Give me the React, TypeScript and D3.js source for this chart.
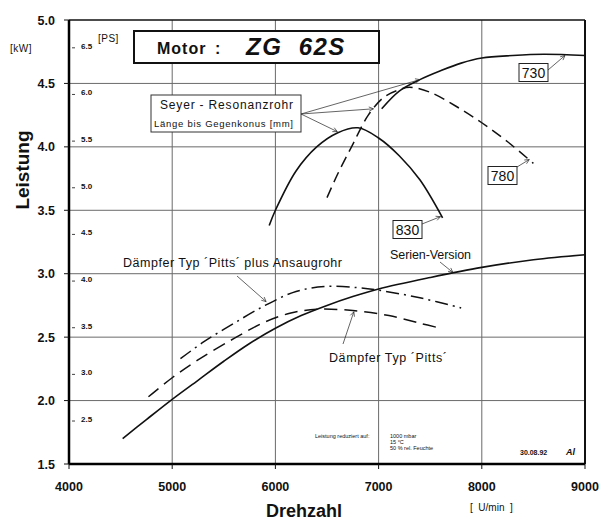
import * as d3 from 'd3';

const rpmTicks = [4000, 5000, 6000, 7000, 8000, 9000];
const kwTicks = [1.5, 2.0, 2.5, 3.0, 3.5, 4.0, 4.5, 5.0];
const psTicks = [2.5, 3.0, 3.5, 4.0, 4.5, 5.0, 5.5, 6.0, 6.5];
const PS_TO_KW = 0.7355;

// Serien-Version
const serienRpm = [4520, 4750, 5000, 5250, 5500, 5750, 6000, 6250, 6500, 6750, 7000, 7500, 8000, 8500, 9000];
const serienKw = [1.7, 1.85, 2.01, 2.16, 2.31, 2.45, 2.57, 2.67, 2.75, 2.82, 2.88, 2.97, 3.05, 3.11, 3.15];

// Dämpfer Typ 'Pitts'
const pittsRpm = [4770, 5000, 5250, 5600, 5900, 6150, 6400, 6750, 7100, 7400, 7600];
const pittsKw = [2.03, 2.18, 2.32, 2.49, 2.62, 2.69, 2.72, 2.71, 2.67, 2.61, 2.57];

// Dämpfer Typ 'Pitts' plus Ansaugrohr
const pittsPlusRpm = [5080, 5300, 5600, 5900, 6200, 6500, 6800, 7000, 7400, 7800];
const pittsPlusKw = [2.33, 2.46, 2.61, 2.75, 2.86, 2.9, 2.89, 2.87, 2.81, 2.73];

// Seyer Resonanzrohr 830 mm
const r830Rpm = [5940, 6000, 6200, 6400, 6600, 6800, 7000, 7200, 7400, 7620];
const r830Kw = [3.38, 3.5, 3.81, 4.0, 4.11, 4.15, 4.07, 3.93, 3.74, 3.44];

// 780 mm
const r780Rpm = [6500, 6600, 6750, 6900, 7050, 7200, 7300, 7500, 7750, 8000, 8250, 8500];
const r780Kw = [3.6, 3.78, 4.02, 4.25, 4.39, 4.45, 4.47, 4.43, 4.32, 4.19, 4.04, 3.87];

// 730 mm
const r730Rpm = [7030, 7200, 7400, 7600, 7800, 8000, 8300, 8600, 9000];
const r730Kw = [4.3, 4.44, 4.53, 4.6, 4.66, 4.7, 4.72, 4.73, 4.72];

const W = 601;
const H = 523;
const FONT = '"Liberation Sans", Arial, sans-serif';

const x = d3.scaleLinear().domain([4000, 9000]).range([69, 585]);
const y = d3.scaleLinear().domain([1.5, 5.0]).range([464, 20]);

const zip = (r: number[], k: number[]) => r.map((v, i) => [v, k[i]] as [number, number]);

const line = d3
  .line<[number, number]>()
  .x((d) => x(d[0]))
  .y((d) => y(d[1]))
  .curve(d3.curveCatmullRom.alpha(0.5));

function Leader({ from, to }: { from: [number, number]; to: [number, number] }) {
  // from in pixels (label side), to in data coords (curve side)
  const tx = x(to[0]);
  const ty = y(to[1]);
  const ang = Math.atan2(ty - from[1], tx - from[0]);
  const a = 5;
  const p1 = [tx - a * Math.cos(ang - 0.45), ty - a * Math.sin(ang - 0.45)];
  const p2 = [tx - a * Math.cos(ang + 0.45), ty - a * Math.sin(ang + 0.45)];
  return (
    <g stroke="#222" strokeWidth={0.7} fill="none">
      <line x1={from[0]} y1={from[1]} x2={tx} y2={ty} />
      <polyline points={`${p1[0]},${p1[1]} ${tx},${ty} ${p2[0]},${p2[1]}`} />
    </g>
  );
}

function LabelBox({ cx, cy, text }: { cx: number; cy: number; text: string }) {
  return (
    <g>
      <rect x={cx - 14.5} y={cy - 9} width={29} height={18} fill="#fff" stroke="#222" strokeWidth={1} />
      <text x={cx} y={cy + 5} textAnchor="middle" fontSize={14} fontFamily={FONT} fill="#111">
        {text}
      </text>
    </g>
  );
}

export default function App() {
  return (
    <svg
      width={W}
      height={H}
      style={{ position: 'absolute', left: 0, top: 0, background: '#fff' }}
      fontFamily={FONT}
    >
      <rect width={W} height={H} fill="#fff" />

      {/* grid */}
      {kwTicks.slice(1, -1).map((t) => (
        <line key={'h' + t} x1={x(4000)} x2={x(9000)} y1={y(t)} y2={y(t)} stroke="#6a6a6a" strokeWidth={1} />
      ))}
      {rpmTicks.slice(1, -1).map((t) => (
        <line key={'v' + t} x1={x(t)} x2={x(t)} y1={y(5)} y2={y(1.5)} stroke="#6a6a6a" strokeWidth={1} />
      ))}

      {/* frame */}
      <line x1={x(4000)} x2={x(9000)} y1={y(5)} y2={y(5)} stroke="#111" strokeWidth={1.5} />
      <line x1={x(9000)} x2={x(9000)} y1={y(5)} y2={y(1.5)} stroke="#111" strokeWidth={2} />
      <line x1={x(4000)} x2={x(4000)} y1={y(5)} y2={y(1.5)} stroke="#000" strokeWidth={2.5} />
      <line x1={x(4000)} x2={x(9000)} y1={y(1.5)} y2={y(1.5)} stroke="#000" strokeWidth={2.5} />

      {/* kW axis */}
      {kwTicks.map((t) => (
        <g key={'k' + t}>
          <line x1={x(4000) - 5} x2={x(4000)} y1={y(t)} y2={y(t)} stroke="#111" strokeWidth={1} />
          <text x={55} y={y(t) + 4.5} textAnchor="end" fontSize={12.5} fontWeight="bold" fill="#111">
            {t.toFixed(1)}
          </text>
        </g>
      ))}
      <text x={10} y={52} fontSize={10} fill="#111" letterSpacing={0.5}>[kW]</text>

      {/* PS scale */}
      {psTicks.map((t) => (
        <g key={'p' + t}>
          <line x1={x(4000) + 3} x2={x(4000) + 6} y1={y(t * PS_TO_KW)} y2={y(t * PS_TO_KW)} stroke="#111" strokeWidth={0.8} />
          <text x={81} y={y(t * PS_TO_KW) + 1} fontSize={8} fontWeight="bold" fill="#111">
            {t.toFixed(1)}
          </text>
        </g>
      ))}
      <text x={98} y={42} fontSize={10} fill="#111" letterSpacing={0.5}>[PS]</text>

      {/* rpm axis */}
      {rpmTicks.map((t) => (
        <g key={'r' + t}>
          <line x1={x(t)} x2={x(t)} y1={y(1.5)} y2={y(1.5) + 5} stroke="#111" strokeWidth={1} />
          <text x={x(t)} y={491} textAnchor="middle" fontSize={12.5} fontWeight="bold" fill="#111">
            {t}
          </text>
        </g>
      ))}
      <text x={266} y={517} fontSize={18} fontWeight="bold" fill="#111">Drehzahl</text>
      <text x={470} y={511} fontSize={10} fill="#111" xmlSpace="preserve">[  U/min  ]</text>
      <text
        transform={`translate(29,170) rotate(-90)`}
        textAnchor="middle"
        fontSize={19}
        fontWeight="bold"
        fill="#111"
      >
        Leistung
      </text>

      {/* curves */}
      <path d={line(zip(serienRpm, serienKw)) ?? ''} fill="none" stroke="#111" strokeWidth={1.6} />
      <path d={line(zip(pittsRpm, pittsKw)) ?? ''} fill="none" stroke="#111" strokeWidth={1.5} strokeDasharray="13 7" />
      <path d={line(zip(pittsPlusRpm, pittsPlusKw)) ?? ''} fill="none" stroke="#111" strokeWidth={1.5} strokeDasharray="13 5 2 5" />
      <path d={line(zip(r830Rpm, r830Kw)) ?? ''} fill="none" stroke="#111" strokeWidth={1.6} />
      <path d={line(zip(r780Rpm, r780Kw)) ?? ''} fill="none" stroke="#111" strokeWidth={1.5} strokeDasharray="11 6" />
      <path d={line(zip(r730Rpm, r730Kw)) ?? ''} fill="none" stroke="#111" strokeWidth={1.6} />

      {/* title */}
      <rect x={134} y={31} width={245} height={32} fill="#fff" stroke="#111" strokeWidth={2} />
      <text x={157} y={54} fontSize={16} fontWeight="bold" fill="#111" letterSpacing={1}>Motor</text>
      <text x={215} y={54} fontSize={16} fontWeight="bold" fill="#111">:</text>
      <text x={246} y={55} fontSize={24} fontWeight="bold" fontStyle="italic" fill="#111" letterSpacing={1.5} xmlSpace="preserve">
        ZG  62S
      </text>

      {/* Seyer annotation */}
      <Leader from={[301, 114]} to={[7400, 4.53]} />
      <Leader from={[301, 114]} to={[6950, 4.3]} />
      <Leader from={[301, 114]} to={[6600, 4.12]} />
      <rect x={151} y={95} width={150} height={37} fill="#fff" stroke="#333" strokeWidth={1} />
      <text x={160} y={109} fontSize={12} fill="#111" textLength={133} lengthAdjust="spacing">Seyer - Resonanzrohr</text>
      <text x={154} y={127} fontSize={9.5} fill="#111" textLength={139} lengthAdjust="spacing">Länge bis Gegenkonus [mm]</text>

      {/* curve labels */}
      <Leader from={[548, 70]} to={[8806, 4.72]} />
      <LabelBox cx={533.5} cy={72.5} text="730" />
      <Leader from={[517, 167]} to={[8460, 3.9]} />
      <LabelBox cx={502.5} cy={175.5} text="780" />
      <Leader from={[422, 224]} to={[7600, 3.45]} />
      <LabelBox cx={407.5} cy={229.5} text="830" />

      <text x={390} y={259} fontSize={12.5} fill="#111" textLength={81} lengthAdjust="spacing">Serien-Version</text>
      <Leader from={[440, 262]} to={[7720, 3.01]} />

      <text x={123} y={267} fontSize={12.5} fill="#111" textLength={219} lengthAdjust="spacing">
        Dämpfer Typ ´Pitts´ plus Ansaugrohr
      </text>
      <Leader from={[237, 276]} to={[5910, 2.78]} />

      <text x={329} y={362} fontSize={12.5} fill="#111" textLength={118} lengthAdjust="spacing">
        Dämpfer Typ ´Pitts´
      </text>
      <Leader from={[343, 344]} to={[6760, 2.7]} />

      {/* notes */}
      <text x={315} y={438} fontSize={5.5} fill="#111">Leistung reduziert auf:</text>
      <text x={390} y={438} fontSize={5.5} fill="#111">1000 mbar</text>
      <text x={390} y={444} fontSize={5.5} fill="#111">15 °C</text>
      <text x={390} y={450} fontSize={5.5} fill="#111">50 % rel. Feuchte</text>
      <text x={520} y={455} fontSize={7} fontWeight="bold" fill="#111">30.08.92</text>
      <text x={566} y={455} fontSize={9} fontWeight="bold" fontStyle="italic" fill="#111">Al</text>
    </svg>
  );
}
